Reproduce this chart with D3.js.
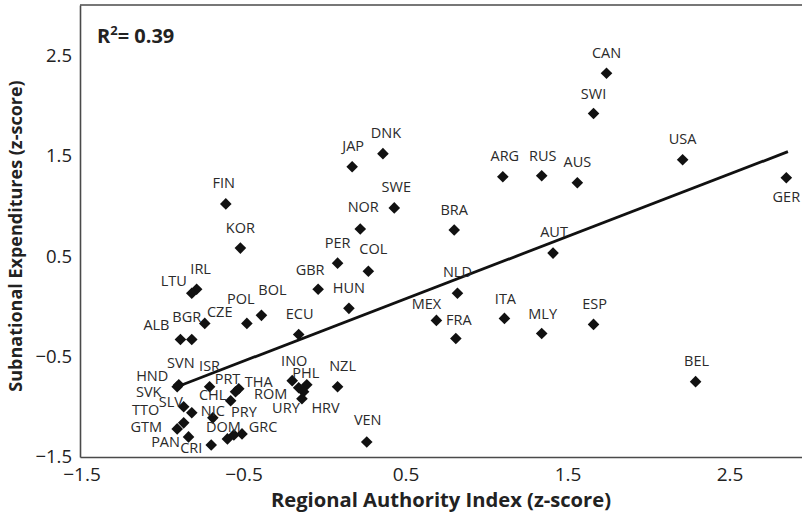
<!DOCTYPE html>
<html>
<head>
<meta charset="utf-8">
<script src="https://cdn.jsdelivr.net/npm/d3@7"></script>
<style>
  html, body { margin: 0; padding: 0; background: #fff; }
  svg { display: block; }
  text { font-family: "Open Sans", "Noto Sans", sans-serif; }
</style>
</head>
<body>
<svg id="chart" width="802" height="520"></svg>
<script>
// ---------- DATA ----------
const countries = ["CAN","SWI","USA","AUS","GER","RUS","ARG","BRA","AUT","NLD","MEX","FRA","ITA","MLY","ESP","BEL",
  "DNK","JAP","SWE","NOR","PER","COL","GBR","HUN","ECU","FIN","KOR","IRL","LTU","CZE","POL","BOL","BGR","ALB",
  "HND","SVN","ISR","PRT","THA","CHL","NIC","SVK","SLV","TTO","GTM","PAN","CRI","DOM","PRY","GRC",
  "INO","PHL","ROM","HRV","URY","NZL","VEN"];
const raiScores = [1.75,1.67,2.22,1.57,2.86,1.35,1.11,0.81,1.42,0.83,0.70,0.82,1.12,1.35,1.67,2.30,
  0.37,0.18,0.44,0.23,0.09,0.28,-0.03,0.16,-0.15,-0.60,-0.51,-0.78,-0.81,-0.73,-0.47,-0.38,-0.81,-0.88,
  -0.90,-0.89,-0.70,-0.54,-0.52,-0.57,-0.68,-0.86,-0.81,-0.86,-0.90,-0.83,-0.69,-0.59,-0.55,-0.50,
  -0.19,-0.10,-0.15,-0.12,-0.13,0.09,0.27];
const expenditureScores = [2.32,1.92,1.46,1.23,1.28,1.30,1.29,0.76,0.53,0.13,-0.14,-0.32,-0.12,-0.27,-0.18,-0.75,
  1.52,1.39,0.98,0.77,0.43,0.35,0.17,-0.02,-0.28,1.02,0.58,0.17,0.13,-0.17,-0.17,-0.09,-0.33,-0.33,
  -0.80,-0.78,-0.80,-0.85,-0.82,-0.94,-1.11,-1.00,-1.06,-1.16,-1.22,-1.30,-1.38,-1.32,-1.28,-1.27,
  -0.74,-0.78,-0.81,-0.85,-0.92,-0.80,-1.35];
const fitX = [-0.90, 2.87];
const fitY = [-0.80, 1.54];
const xTicks = [-1.5, -0.5, 0.5, 1.5, 2.5];
const yTicks = [-1.5, -0.5, 0.5, 1.5, 2.5];
const rSquared = "0.39";
const xTitle = "Regional Authority Index (z-score)";
const yTitle = "Subnational Expenditures (z-score)";

// ---------- LABEL PLACEMENT (layout only, pixel offsets of label centre from marker) ----------
const labelPlacement = {
  CAN:[0,-21], SWI:[0,-20], USA:[0,-21], AUS:[0,-21], GER:[0,19], RUS:[1,-20], ARG:[2,-21], BRA:[0,-20],
  AUT:[1,-21], NLD:[0,-22], MEX:[-10,-17], FRA:[3,-19], ITA:[1,-20], MLY:[1,-20], ESP:[1,-21], BEL:[1,-21],
  DNK:[3,-21], JAP:[1,-21], SWE:[2,-21], NOR:[3,-22], PER:[0,-20], COL:[5,-22], GBR:[-8,-20], HUN:[0,-21],
  ECU:[1,-21], FIN:[-2,-21], KOR:[0,-20], IRL:[4,-21], LTU:[-18,-13], CZE:[15,-12], POL:[-6,-25], BOL:[11,-26],
  BGR:[-5,-23], ALB:[-24,-15], HND:[-25,-11], SVN:[2,-22], ISR:[0,-21], PRT:[-8,-13], THA:[20,-7], CHL:[-18,-6],
  NIC:[0,-7], SVK:[-35,-15], SLV:[-21,-11], TTO:[-38,-13], GTM:[-31,-2], PAN:[-23,5], CRI:[-20,3],
  DOM:[-4,-12], PRY:[10,-23], GRC:[21,-7], INO:[2,-20], PHL:[-1,-12], ROM:[-28,6], URY:[-16,9], HRV:[22,16],
  NZL:[5,-21], VEN:[1,-22]
};

// ---------- CHART ----------
const svg = d3.select("#chart");
const mLeft = 80, mRight = 809, mTop = 5, mBottom = 457;
const x = d3.scaleLinear().domain([-1.5, 3.0]).range([mLeft, mRight]);
const y = d3.scaleLinear().domain([-1.5, 3.0]).range([mBottom, mTop]);
const axisColor = "#4a4a4a";

// frame top line
svg.append("line").attr("x1", mLeft).attr("x2", 802).attr("y1", mTop).attr("y2", mTop)
  .attr("stroke", axisColor).attr("stroke-width", 1.6);

const fmt = d => (d < 0 ? "\u2212" : "") + Math.abs(d).toFixed(1);

// bottom axis line (domain only) + tick labels
const gx = svg.append("g").attr("transform", `translate(0,${mBottom})`)
  .call(d3.axisBottom(x).tickValues([]).tickSize(0).tickSizeOuter(0));
gx.select(".domain").attr("stroke", axisColor).attr("stroke-width", 1.6);
svg.append("g").attr("class", "x-tick-labels").selectAll("text").data(xTicks).join("text")
  .attr("x", d => x(d) + 2)
  .attr("y", mBottom + 24)
  .attr("text-anchor", "middle")
  .attr("font-size", 19)
  .attr("fill", "#222")
  .text(d => fmt(d));

const gy = svg.append("g").attr("transform", `translate(${mLeft},0)`)
  .call(d3.axisLeft(y).tickValues(yTicks).tickSize(0).tickSizeOuter(0).tickPadding(8).tickFormat(fmt));
gy.select(".domain").attr("stroke", axisColor).attr("stroke-width", 1.6);
gy.selectAll("text").attr("font-size", 18.5).attr("fill", "#222")
  .attr("font-family", "'Open Sans', sans-serif");

// fit line
svg.append("line")
  .attr("x1", x(fitX[0])).attr("y1", y(fitY[0]))
  .attr("x2", x(fitX[1])).attr("y2", y(fitY[1]))
  .attr("stroke", "#111").attr("stroke-width", 2.8);

const pts = countries.map((c, i) => ({c, xv: raiScores[i], yv: expenditureScores[i]}));

// markers
const h = 5.8;
svg.append("g").selectAll("path").data(pts).join("path")
  .attr("transform", d => `translate(${x(d.xv)},${y(d.yv)})`)
  .attr("d", `M0,${-h}L${h},0L0,${h}L${-h},0Z`)
  .attr("fill", "#111");

// labels
svg.append("g").selectAll("text").data(pts).join("text")
  .attr("x", d => x(d.xv) + (labelPlacement[d.c] || [0,-20])[0])
  .attr("y", d => y(d.yv) + (labelPlacement[d.c] || [0,-20])[1] + 5.3)
  .attr("text-anchor", "middle")
  .attr("font-size", 14.5)
  .attr("fill", "#2a2a2a")
  .text(d => d.c);

// R squared
const r2 = svg.append("text").attr("x", 97).attr("y", 43)
  .attr("font-size", 20).attr("font-weight", "bold").attr("fill", "#222");
r2.append("tspan").text("R");
r2.append("tspan").attr("font-size", 13).attr("dy", -8).text("2");
r2.append("tspan").attr("dy", 8).text("= " + rSquared);

// axis titles
svg.append("text").attr("x", 441).attr("y", 507).attr("text-anchor", "middle")
  .attr("font-size", 20).attr("font-weight", "bold").attr("fill", "#222")
  .attr("textLength", 340).attr("lengthAdjust", "spacingAndGlyphs")
  .text(xTitle);
svg.append("text").attr("transform", "translate(22,236) rotate(-90)").attr("text-anchor", "middle")
  .attr("font-size", 18).attr("font-weight", "bold").attr("fill", "#222")
  .text(yTitle);
</script>
</body>
</html>
